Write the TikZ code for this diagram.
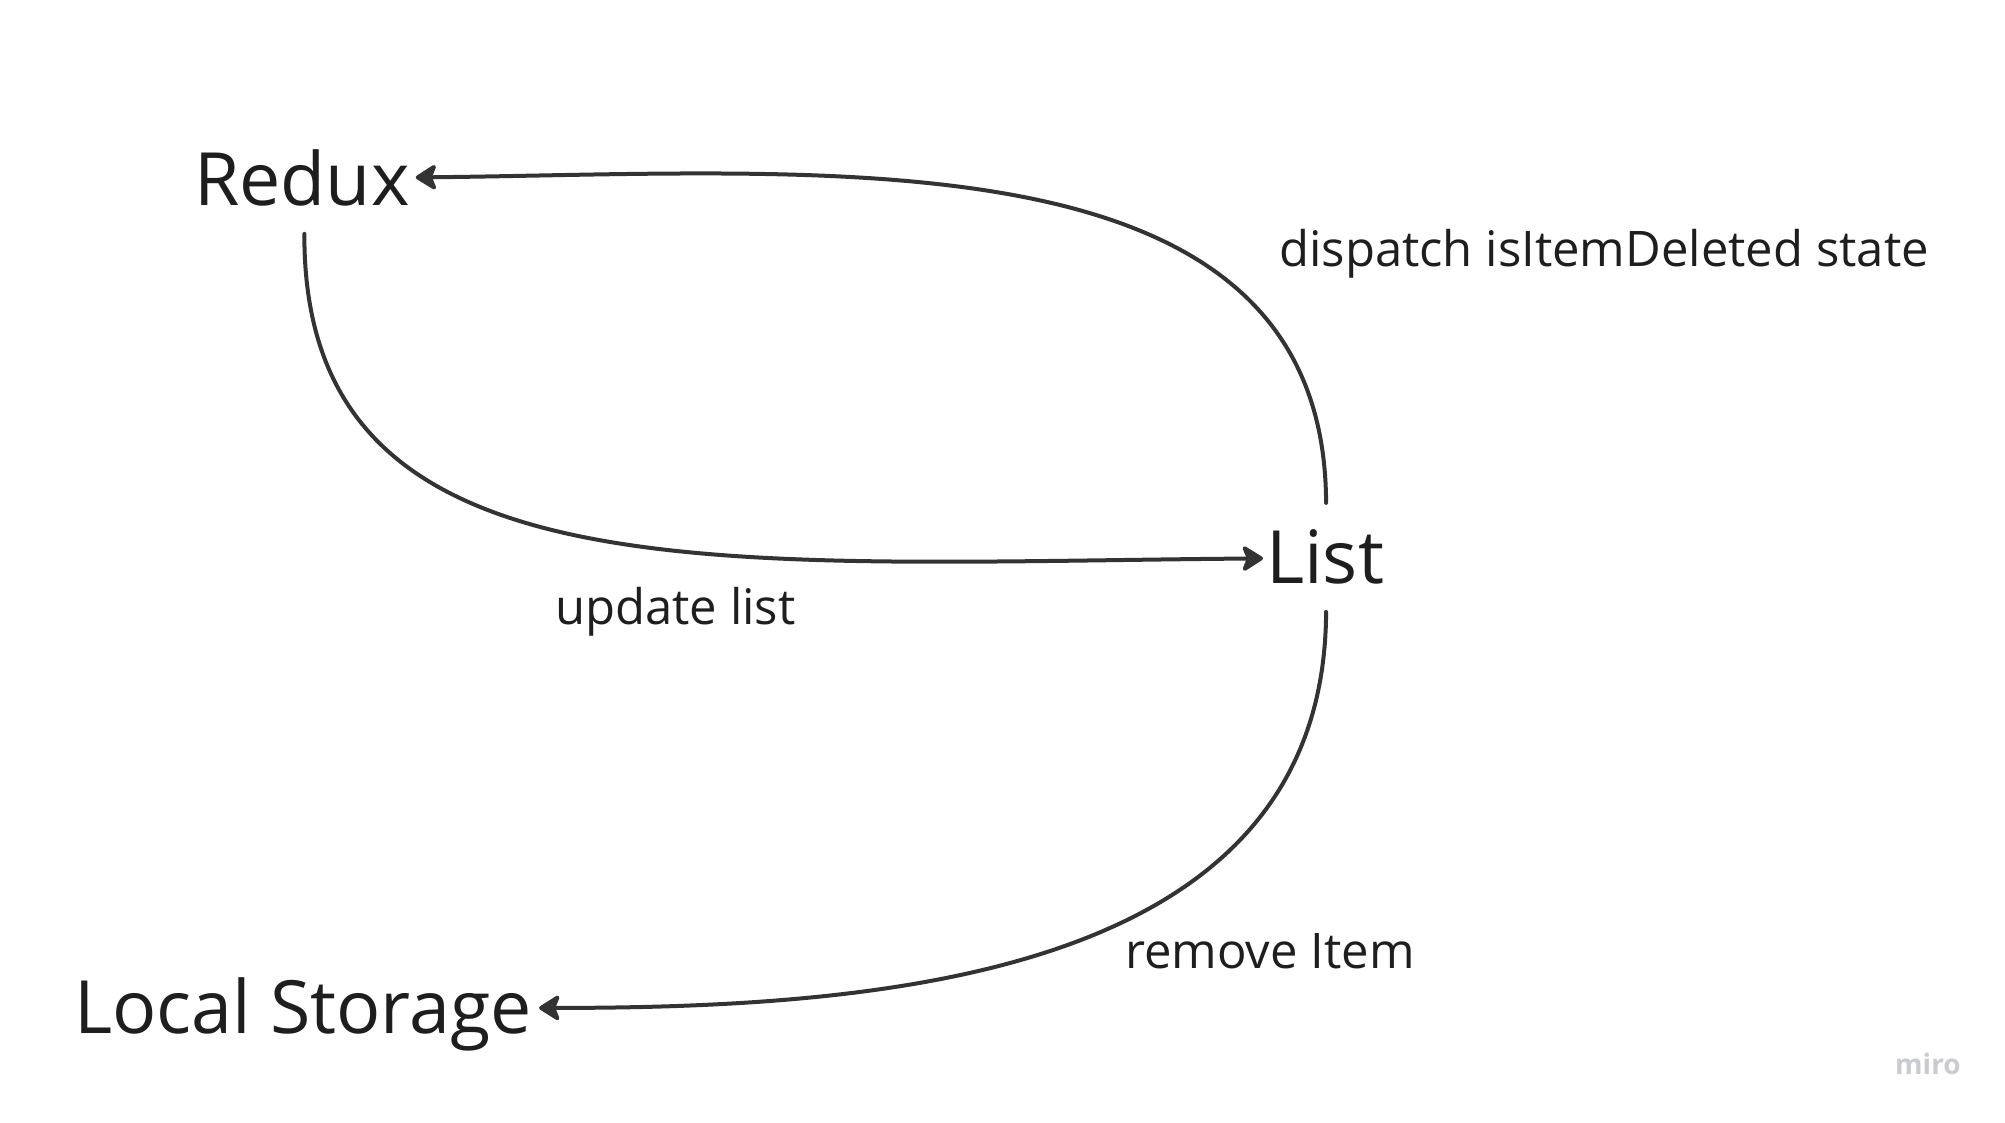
\documentclass[tikz,border=0pt]{standalone}
\usepackage{fontspec}
\setmainfont{Open Sans}
\usetikzlibrary{arrows.meta}
\definecolor{ink}{HTML}{333333}
\definecolor{txt}{HTML}{1E1E1E}
\definecolor{logo}{HTML}{C9CAD3}
\begin{document}
\begin{tikzpicture}[x=1pt,y=-1pt,
  big/.style={inner sep=0pt, anchor=base west, text=txt, font=\fontsize{73.5}{76}\selectfont},
  lbl/.style={inner sep=0pt, anchor=base west, text=txt, font=\fontsize{49}{52}\selectfont},
  conn/.style={draw=ink, line width=4pt, line cap=round,
    -{Stealth[length=24pt, width=30pt, inset=6pt, round]}}]
\fill[white] (0,0) rectangle (2005,1122);
\node[big] (redux) at (194,205) {Redux};
\node[big] (list) at (1266,583) {List};
\node[big] (local) at (74,1033) {Local Storage};
\node[lbl] (dispatch) at (1279,266) {dispatch isItemDeleted state};
\node[lbl] (update) at (555,624) {update list};
\node[lbl] (remove) at (1125,968) {remove Item};
\node[inner sep=0pt, anchor=base west, text=logo, font=\fontsize{28}{30}\selectfont\bfseries] (miro) at (1895,1074) {miro};
\draw[conn] ([shift={(2.5,28)}]redux.south) .. controls (303,601) and (716,563) .. ([shift={(-3,2)}]list.west);
\draw[conn] ([shift={(1,-26)}]list.north) .. controls (1325,128) and (831,173) .. ([shift={(6,0)}]redux.east);
\draw[conn] ([shift={(1,28)}]list.south) .. controls (1325,972) and (895,1008) .. ([shift={(7,-6)}]local.east);
\end{tikzpicture}
\end{document}
